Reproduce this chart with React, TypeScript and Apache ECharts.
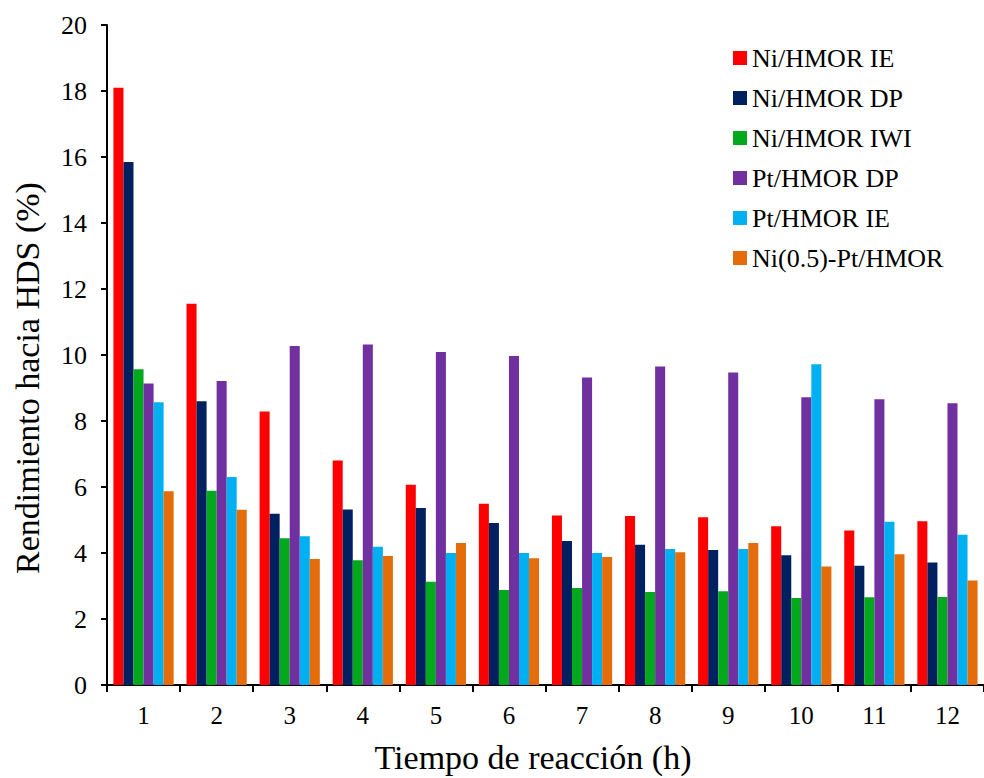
import React, { useEffect, useRef } from "react";
import * as echarts from "echarts";

const categories = ["1", "2", "3", "4", "5", "6", "7", "8", "9", "10", "11", "12"];
const niHmorIE = [18.1, 11.55, 8.29, 6.8, 6.07, 5.49, 5.14, 5.12, 5.08, 4.81, 4.68, 4.96];
const niHmorDP = [15.85, 8.6, 5.19, 5.32, 5.36, 4.91, 4.36, 4.25, 4.09, 3.93, 3.61, 3.71];
const niHmorIWI = [9.57, 5.89, 4.45, 3.78, 3.13, 2.88, 2.94, 2.82, 2.84, 2.64, 2.66, 2.67];
const ptHmorDP = [9.14, 9.21, 10.27, 10.32, 10.09, 9.97, 9.32, 9.65, 9.47, 8.72, 8.66, 8.54];
const ptHmorIE = [8.57, 6.3, 4.51, 4.19, 4.0, 4.0, 4.0, 4.12, 4.12, 9.72, 4.95, 4.55];
const niPtHmor = [5.87, 5.31, 3.82, 3.91, 4.3, 3.84, 3.88, 4.02, 4.3, 3.59, 3.96, 3.17];

const seriesNames = [
  "Ni/HMOR IE",
  "Ni/HMOR DP",
  "Ni/HMOR IWI",
  "Pt/HMOR DP",
  "Pt/HMOR IE",
  "Ni(0.5)-Pt/HMOR",
];
const seriesData = [niHmorIE, niHmorDP, niHmorIWI, ptHmorDP, ptHmorIE, niPtHmor];
const colors = ["#FF0000", "#002060", "#04A81C", "#7030A0", "#00B0F0", "#E46C0A"];

const FONT = "Liberation Serif, serif";

export default function App() {
  const ref = useRef<HTMLDivElement>(null);
  useEffect(() => {
    if (!ref.current) return;
    const chart = echarts.init(ref.current, undefined, { renderer: "svg" });
    chart.setOption({
      animation: false,
      backgroundColor: "#ffffff",
      color: colors,
      textStyle: { fontFamily: FONT },
      grid: { left: 107, top: 25, right: -7, bottom: 93, containLabel: false },
      legend: {
        orient: "vertical",
        left: 728,
        top: 40,
        icon: "rect",
        itemWidth: 14,
        itemHeight: 14,
        itemGap: 14,
        data: seriesNames,
        textStyle: { fontFamily: FONT, fontSize: 26, color: "#000" },
      },
      xAxis: {
        type: "category",
        data: categories,
        axisLine: { show: true, lineStyle: { color: "#000", width: 2 } },
        axisTick: { show: true, alignWithLabel: false, length: 7, lineStyle: { color: "#000", width: 2 } },
        axisLabel: { fontFamily: FONT, fontSize: 25, color: "#000", margin: 18 },
        splitLine: { show: false },
      },
      yAxis: {
        type: "value",
        min: 0,
        max: 20,
        interval: 2,
        axisLine: { show: true, lineStyle: { color: "#000", width: 2 } },
        axisTick: { show: true, length: 6, lineStyle: { color: "#000", width: 2 } },
        axisLabel: { fontFamily: FONT, fontSize: 26, color: "#000", margin: 20 },
        splitLine: { show: false },
      },
      graphic: [
        {
          type: "text",
          x: 27,
          y: 378,
          rotation: Math.PI / 2,
          style: {
            text: "Rendimiento hacia HDS (%)",
            fontFamily: FONT,
            fontSize: 34,
            fill: "#000",
            textAlign: "center",
            textVerticalAlign: "middle",
          },
        },
        {
          type: "text",
          x: 533,
          y: 757,
          style: {
            text: "Tiempo de reacción (h)",
            fontFamily: FONT,
            fontSize: 34,
            fill: "#000",
            textAlign: "center",
            textVerticalAlign: "middle",
          },
        },
      ],
      series: seriesNames.map((name, i) => ({
        name,
        type: "bar",
        data: seriesData[i],
        barGap: "0%",
        barCategoryGap: "17.6%",
        itemStyle: { color: colors[i] },
      })),
    });
    return () => chart.dispose();
  }, []);
  return (
    <div
      ref={ref}
      style={{ position: "fixed", left: 0, top: 0, width: 984, height: 778 }}
    />
  );
}
